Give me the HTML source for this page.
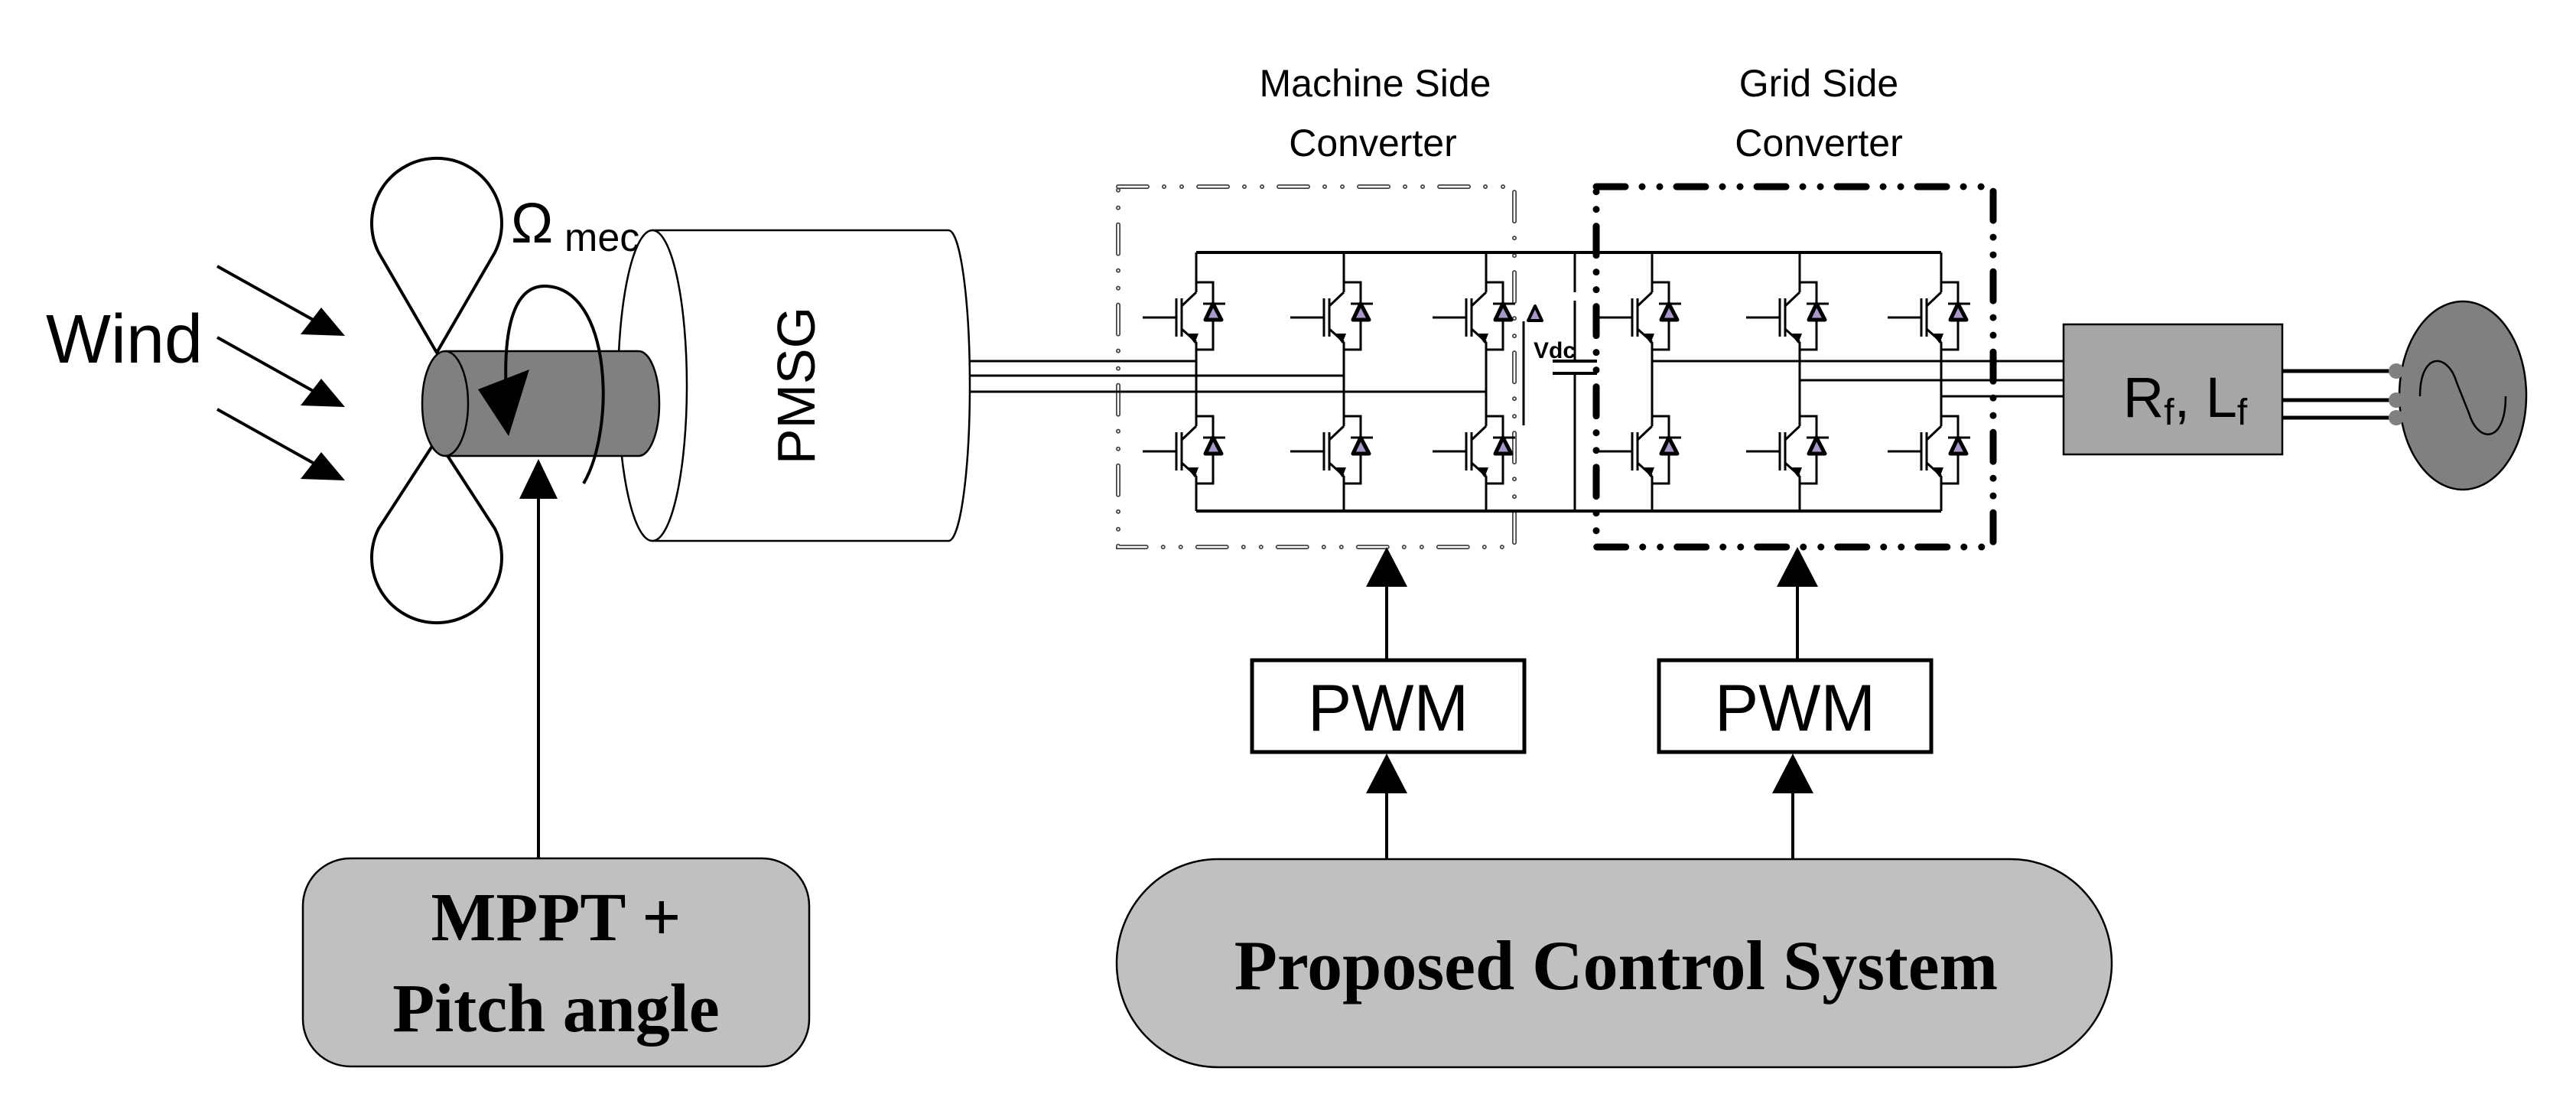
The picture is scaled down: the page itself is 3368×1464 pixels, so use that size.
<!DOCTYPE html>
<html><head><meta charset="utf-8"><style>
html,body{margin:0;padding:0;background:#fff;}
svg{display:block;}
</style></head><body>
<svg width="3368" height="1464" viewBox="0 0 3368 1464" xmlns="http://www.w3.org/2000/svg">
<defs>
<g id="sw">
  <path d="M0,-32 L-19,-14 M-19,16 L0,33" stroke="#000" stroke-width="3" fill="none"/>
  <path d="M-19,-24 V26 M-26,-24 V26 M-70,1 H-26" stroke="#000" stroke-width="3" fill="none"/>
  <path d="M-2,35 L-12,22 L3,22 Z" fill="#000"/>
  <path d="M0,-45 H22 V43 H0" stroke="#000" stroke-width="3" fill="none"/>
  <path d="M22,-17 L12,4 L33,4 Z" fill="#a898c8" stroke="#000" stroke-width="5" stroke-linejoin="round"/>
  <path d="M9,-17 H38" stroke="#000" stroke-width="3"/>
</g>
</defs>

<!-- Wind -->
<text x="60" y="474" font-family="Liberation Sans, sans-serif" font-size="90" fill="#000">Wind</text>
<g stroke="#000" stroke-width="4">
<line x1="284" y1="348" x2="420" y2="424"/>
<line x1="284" y1="441" x2="420" y2="517"/>
<line x1="284" y1="535" x2="420" y2="611"/>
</g>
<g fill="#000">
<path d="M451,439 L393,437 L420,402 Z"/>
<path d="M451,532 L393,530 L420,495 Z"/>
<path d="M451,628 L393,626 L420,591 Z"/>
</g>

<!-- PMSG -->
<path d="M853,301 H1240 A28,203 0 0 1 1240,707 H853" fill="#fff" stroke="#000" stroke-width="2.5"/>
<ellipse cx="853" cy="504" rx="45" ry="203" fill="#fff" stroke="#000" stroke-width="2.5"/>
<text transform="translate(1065,504) rotate(-90)" text-anchor="middle" font-family="Liberation Sans, sans-serif" font-size="70" fill="#000">PMSG</text>

<!-- blades -->
<path d="M571,461 L495,330 A85,85 0 1 1 647,330 Z" fill="none" stroke="#000" stroke-width="4" stroke-linejoin="round"/>
<path d="M571,574 L495,691 A85,85 0 1 0 647,691 Z" fill="none" stroke="#000" stroke-width="4" stroke-linejoin="round"/>
<!-- hub -->
<path d="M582,459 H835 A27,68.5 0 0 1 835,596 H582 A30,68.5 0 0 1 582,459 Z" fill="#808080" stroke="#000" stroke-width="2.5"/>
<path d="M582,459 A30,68.5 0 0 1 582,596" fill="none" stroke="#000" stroke-width="2.5"/>
<!-- rotation arrow -->
<path d="M763,632 C805,560 800,378 714,374 C668,372 658,440 662,515" fill="none" stroke="#000" stroke-width="4"/>
<path d="M625,509 L692,483 L665,570 Z" fill="#000"/>
<text x="668" y="317" font-family="Liberation Sans, sans-serif" font-size="74" fill="#000">Ω</text>
<text x="738" y="328" font-family="Liberation Sans, sans-serif" font-size="52" fill="#000">mec</text>

<!-- MPPT arrow -->
<line x1="704" y1="1122" x2="704" y2="645" stroke="#000" stroke-width="4"/>
<path d="M704,600 L679,652 L729,652 Z" fill="#000"/>
<rect x="396" y="1122" width="662" height="272" rx="62" fill="#c0c0c0" stroke="#000" stroke-width="2.5"/>
<text x="727" y="1229" text-anchor="middle" font-family="Liberation Serif, serif" font-weight="bold" font-size="90" fill="#000">MPPT +</text>
<text x="727" y="1348" text-anchor="middle" font-family="Liberation Serif, serif" font-weight="bold" font-size="90" fill="#000">Pitch angle</text>

<!-- converter labels -->
<g font-family="Liberation Sans, sans-serif" font-size="50" fill="#000" text-anchor="middle">
<text x="1798" y="126">Machine Side</text>
<text x="1795" y="204">Converter</text>
<text x="2378" y="126">Grid Side</text>
<text x="2378" y="204">Converter</text>
</g>

<!-- MSC box (hollow dash-dot-dot) -->
<rect x="1462" y="244" width="518" height="471" fill="none" stroke="#444" stroke-width="6" stroke-linecap="round" stroke-dasharray="38 22 0.01 23 0.01 22"/>
<rect x="1462" y="244" width="518" height="471" fill="none" stroke="#fff" stroke-width="2.5" stroke-linecap="round" stroke-dasharray="38 22 0.01 23 0.01 22"/>

<!-- phase lines PMSG -> MSC -->
<g stroke="#000" stroke-width="3">
<line x1="1268" y1="472" x2="1564" y2="472"/>
<line x1="1268" y1="491" x2="1757" y2="491"/>
<line x1="1268" y1="512" x2="1943" y2="512"/>
</g>

<!-- buses -->
<g stroke="#000" stroke-width="4">
<line x1="1564" y1="330" x2="2538" y2="330"/>
<line x1="1564" y1="668" x2="2538" y2="668"/>
</g>
<!-- legs -->
<g stroke="#000" stroke-width="3">
<path d="M1564,330 V382 M1564,447 V557 M1564,622 V668"/>
<path d="M1757,330 V382 M1757,447 V557 M1757,622 V668"/>
<path d="M1943,330 V382 M1943,447 V557 M1943,622 V668"/>
<path d="M2160,330 V382 M2160,447 V557 M2160,622 V668"/>
<path d="M2353,330 V382 M2353,447 V557 M2353,622 V668"/>
<path d="M2538,330 V382 M2538,447 V557 M2538,622 V668"/>
</g>
<use href="#sw" x="1564" y="414"/><use href="#sw" x="1564" y="589"/>
<use href="#sw" x="1757" y="414"/><use href="#sw" x="1757" y="589"/>
<use href="#sw" x="1943" y="414"/><use href="#sw" x="1943" y="589"/>
<use href="#sw" x="2160" y="414"/><use href="#sw" x="2160" y="589"/>
<use href="#sw" x="2353" y="414"/><use href="#sw" x="2353" y="589"/>
<use href="#sw" x="2538" y="414"/><use href="#sw" x="2538" y="589"/>

<!-- capacitor -->
<g stroke="#000" stroke-width="3">
<path d="M2059,330 V382 M2059,393 V472 M2059,488 V668"/>
<path d="M2030,472 H2088 M2030,488 H2088" stroke-width="4"/>
<line x1="1992" y1="420" x2="1992" y2="556"/>
</g>
<path d="M2007,400 L1998,419 L2016,419 Z" fill="#a898c8" stroke="#000" stroke-width="4" stroke-linejoin="round"/>
<text x="2005" y="468" font-family="Liberation Sans, sans-serif" font-weight="bold" font-size="30" fill="#000">Vdc</text>

<!-- GSC phase lines -->
<g stroke="#000" stroke-width="3">
<line x1="2160" y1="472" x2="2698" y2="472"/>
<line x1="2353" y1="497" x2="2698" y2="497"/>
<line x1="2538" y1="518" x2="2698" y2="518"/>
</g>

<!-- GSC box -->
<rect x="2087" y="244" width="519" height="471" fill="none" stroke="#000" stroke-width="9" stroke-linecap="round" stroke-dasharray="38 22 0.01 23 0.01 22"/>

<!-- filter -->
<rect x="2698" y="424" width="286" height="170" fill="#a6a6a6" stroke="#000" stroke-width="2.5"/>
<text x="2857" y="545" text-anchor="middle" font-family="Liberation Sans, sans-serif" font-size="74" fill="#000">R<tspan font-size="48" dy="10">f</tspan><tspan dy="-10">, L</tspan><tspan font-size="48" dy="10">f</tspan></text>
<g stroke="#000" stroke-width="5">
<line x1="2984" y1="485" x2="3130" y2="485"/>
<line x1="2984" y1="523" x2="3130" y2="523"/>
<line x1="2984" y1="546" x2="3130" y2="546"/>
</g>
<ellipse cx="3220" cy="517" rx="83" ry="123" fill="#808080" stroke="#000" stroke-width="2.5"/>
<g fill="#808080"><circle cx="3133" cy="485" r="10"/><circle cx="3133" cy="523" r="10"/><circle cx="3133" cy="546" r="10"/></g>
<path d="M3164,518 C3164,460 3200,460 3212,500 L3228,540 C3240,580 3276,580 3276,518" fill="none" stroke="#000" stroke-width="2.5"/>

<!-- PWM arrows -->
<g stroke="#000" stroke-width="4">
<line x1="1813" y1="863" x2="1813" y2="760"/>
<line x1="2350" y1="863" x2="2350" y2="760"/>
<line x1="1813" y1="1123" x2="1813" y2="1030"/>
<line x1="2344" y1="1123" x2="2344" y2="1030"/>
</g>
<g fill="#000">
<path d="M1813,715 L1786,767 L1840,767 Z"/>
<path d="M2350,715 L2323,767 L2377,767 Z"/>
<path d="M1813,985 L1786,1037 L1840,1037 Z"/>
<path d="M2344,985 L2317,1037 L2371,1037 Z"/>
</g>
<rect x="1637" y="863" width="356" height="120" fill="#fff" stroke="#000" stroke-width="5"/>
<rect x="2169" y="863" width="356" height="120" fill="#fff" stroke="#000" stroke-width="5"/>
<g font-family="Liberation Sans, sans-serif" font-size="86" fill="#000" text-anchor="middle">
<text x="1815" y="955">PWM</text>
<text x="2347" y="955">PWM</text>
</g>

<!-- control system -->
<rect x="1460" y="1123" width="1301" height="272" rx="132" ry="136" fill="#c0c0c0" stroke="#000" stroke-width="2.5"/>
<text x="2113" y="1293" text-anchor="middle" font-family="Liberation Serif, serif" font-weight="bold" font-size="92" fill="#000">Proposed Control System</text>
</svg>
</body></html>
